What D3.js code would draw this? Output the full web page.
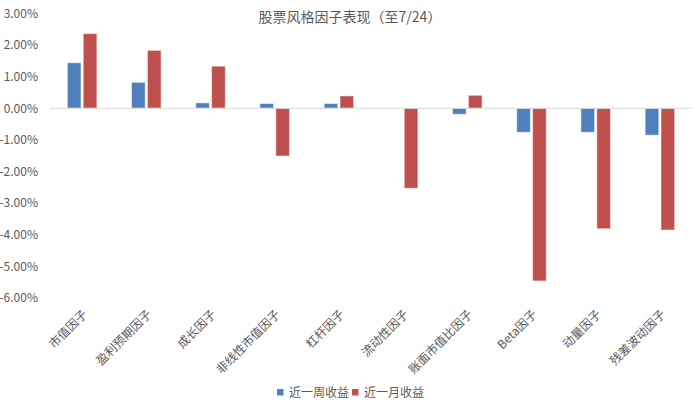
<!DOCTYPE html>
<html>
<head>
<meta charset="utf-8">
<script src="https://d3js.org/d3.v7.min.js"></script>
<title>股票风格因子表现</title>
<style>
    body { margin: 0; background: #fff; }
    text { font-family: "Noto Sans CJK SC", "Noto Sans", sans-serif; fill: #595959; }
</style>
</head>
<body>
<svg id="chart"></svg>
<script>
// data (in %)
const categories = ["市值因子", "盈利预期因子", "成长因子", "非线性市值因子", "杠杆因子",
                    "流动性因子", "账面市值比因子", "Beta因子", "动量因子", "残差波动因子"];
const seriesNames = ["近一周收益", "近一月收益"];
const weekValues  = [1.44, 0.82, 0.17, 0.15, 0.15, 0.00, -0.19, -0.76, -0.76, -0.85];
const monthValues = [2.36, 1.83, 1.33, -1.51, 0.39, -2.53, 0.41, -5.46, -3.81, -3.85];
const yTicks = [3, 2, 1, 0, -1, -2, -3, -4, -5, -6];
const colors = ["#4f81bd", "#c0504d"];

const width = 700, height = 411;
const margins = {top: 13.4, right: 8, bottom: 113, left: 50};
const chartWidth = width - margins.left - margins.right;
const chartHeight = height - margins.top - margins.bottom;

let svg = d3.select("svg#chart")
            .attr("width", width)
            .attr("height", height);

let chartArea = svg.append("g")
                   .attr("transform", `translate(${margins.left}, ${margins.top})`);

const xScale = d3.scaleBand()
                 .domain(categories)
                 .range([0, chartWidth])
                 .paddingInner(0.54)
                 .paddingOuter(0.27);
const sScale = d3.scaleBand()
                 .domain(seriesNames)
                 .range([0, xScale.bandwidth()])
                 .paddingInner(0.14);
const yScale = d3.scaleLinear()
                 .domain([-6, 3])
                 .range([chartHeight, 0]);

// y axis labels only
let yAxis = d3.axisLeft(yScale)
              .tickValues(yTicks)
              .tickSize(0)
              .tickPadding(6)
              .tickFormat(d => d.toFixed(2) + "%");
let yG = svg.append("g")
            .attr("transform", `translate(${margins.left - 6}, ${margins.top})`)
            .call(yAxis);
yG.select(".domain").remove();
yG.selectAll("text").style("font-size", "12px").attr("fill", "#595959");

// bars
const table = seriesNames.map((s, k) => ({
    name: s,
    color: colors[k],
    values: k === 0 ? weekValues : monthValues
}));

table.forEach(series => {
    chartArea.selectAll(null)
        .data(series.values)
        .join("rect")
        .attr("x", (d, i) => xScale(categories[i]) + sScale(series.name))
        .attr("y", d => yScale(Math.max(0, d)))
        .attr("width", sScale.bandwidth())
        .attr("height", d => Math.abs(yScale(d) - yScale(0)))
        .attr("fill", series.color)
        .attr("stroke", "#ffffff")
        .attr("stroke-opacity", 0.5)
        .attr("stroke-width", 1);
});

// zero line
chartArea.append("line")
    .attr("x1", 0).attr("x2", chartWidth)
    .attr("y1", yScale(0)).attr("y2", yScale(0))
    .attr("stroke", "#d9d9d9")
    .attr("stroke-width", 1);

// x labels, rotated
let xAxis = d3.axisBottom(xScale).tickSize(0).tickPadding(0);
let xG = svg.append("g")
            .attr("transform", `translate(${margins.left + 3}, ${margins.top + chartHeight + 14})`)
            .call(xAxis);
xG.select(".domain").remove();
xG.selectAll("text")
  .style("font-size", "12px")
  .attr("fill", "#595959")
  .attr("text-anchor", "end")
  .attr("dy", "0.35em")
  .attr("transform", "rotate(-45)");

// title
svg.append("text")
   .attr("x", 350)
   .attr("y", 22)
   .attr("text-anchor", "middle")
   .style("font-size", "14px")
   .text("股票风格因子表现（至7/24）");

// legend
const legendX = [277, 352];
seriesNames.forEach((s, k) => {
    let g = svg.append("g").attr("transform", `translate(${legendX[k]}, 389)`);
    g.append("rect").attr("width", 6.5).attr("height", 6.5).attr("fill", colors[k]);
    g.append("text").attr("x", 12).attr("y", 3.5).attr("dy", "0.35em")
     .style("font-size", "12px").text(s);
});
</script>
</body>
</html>
